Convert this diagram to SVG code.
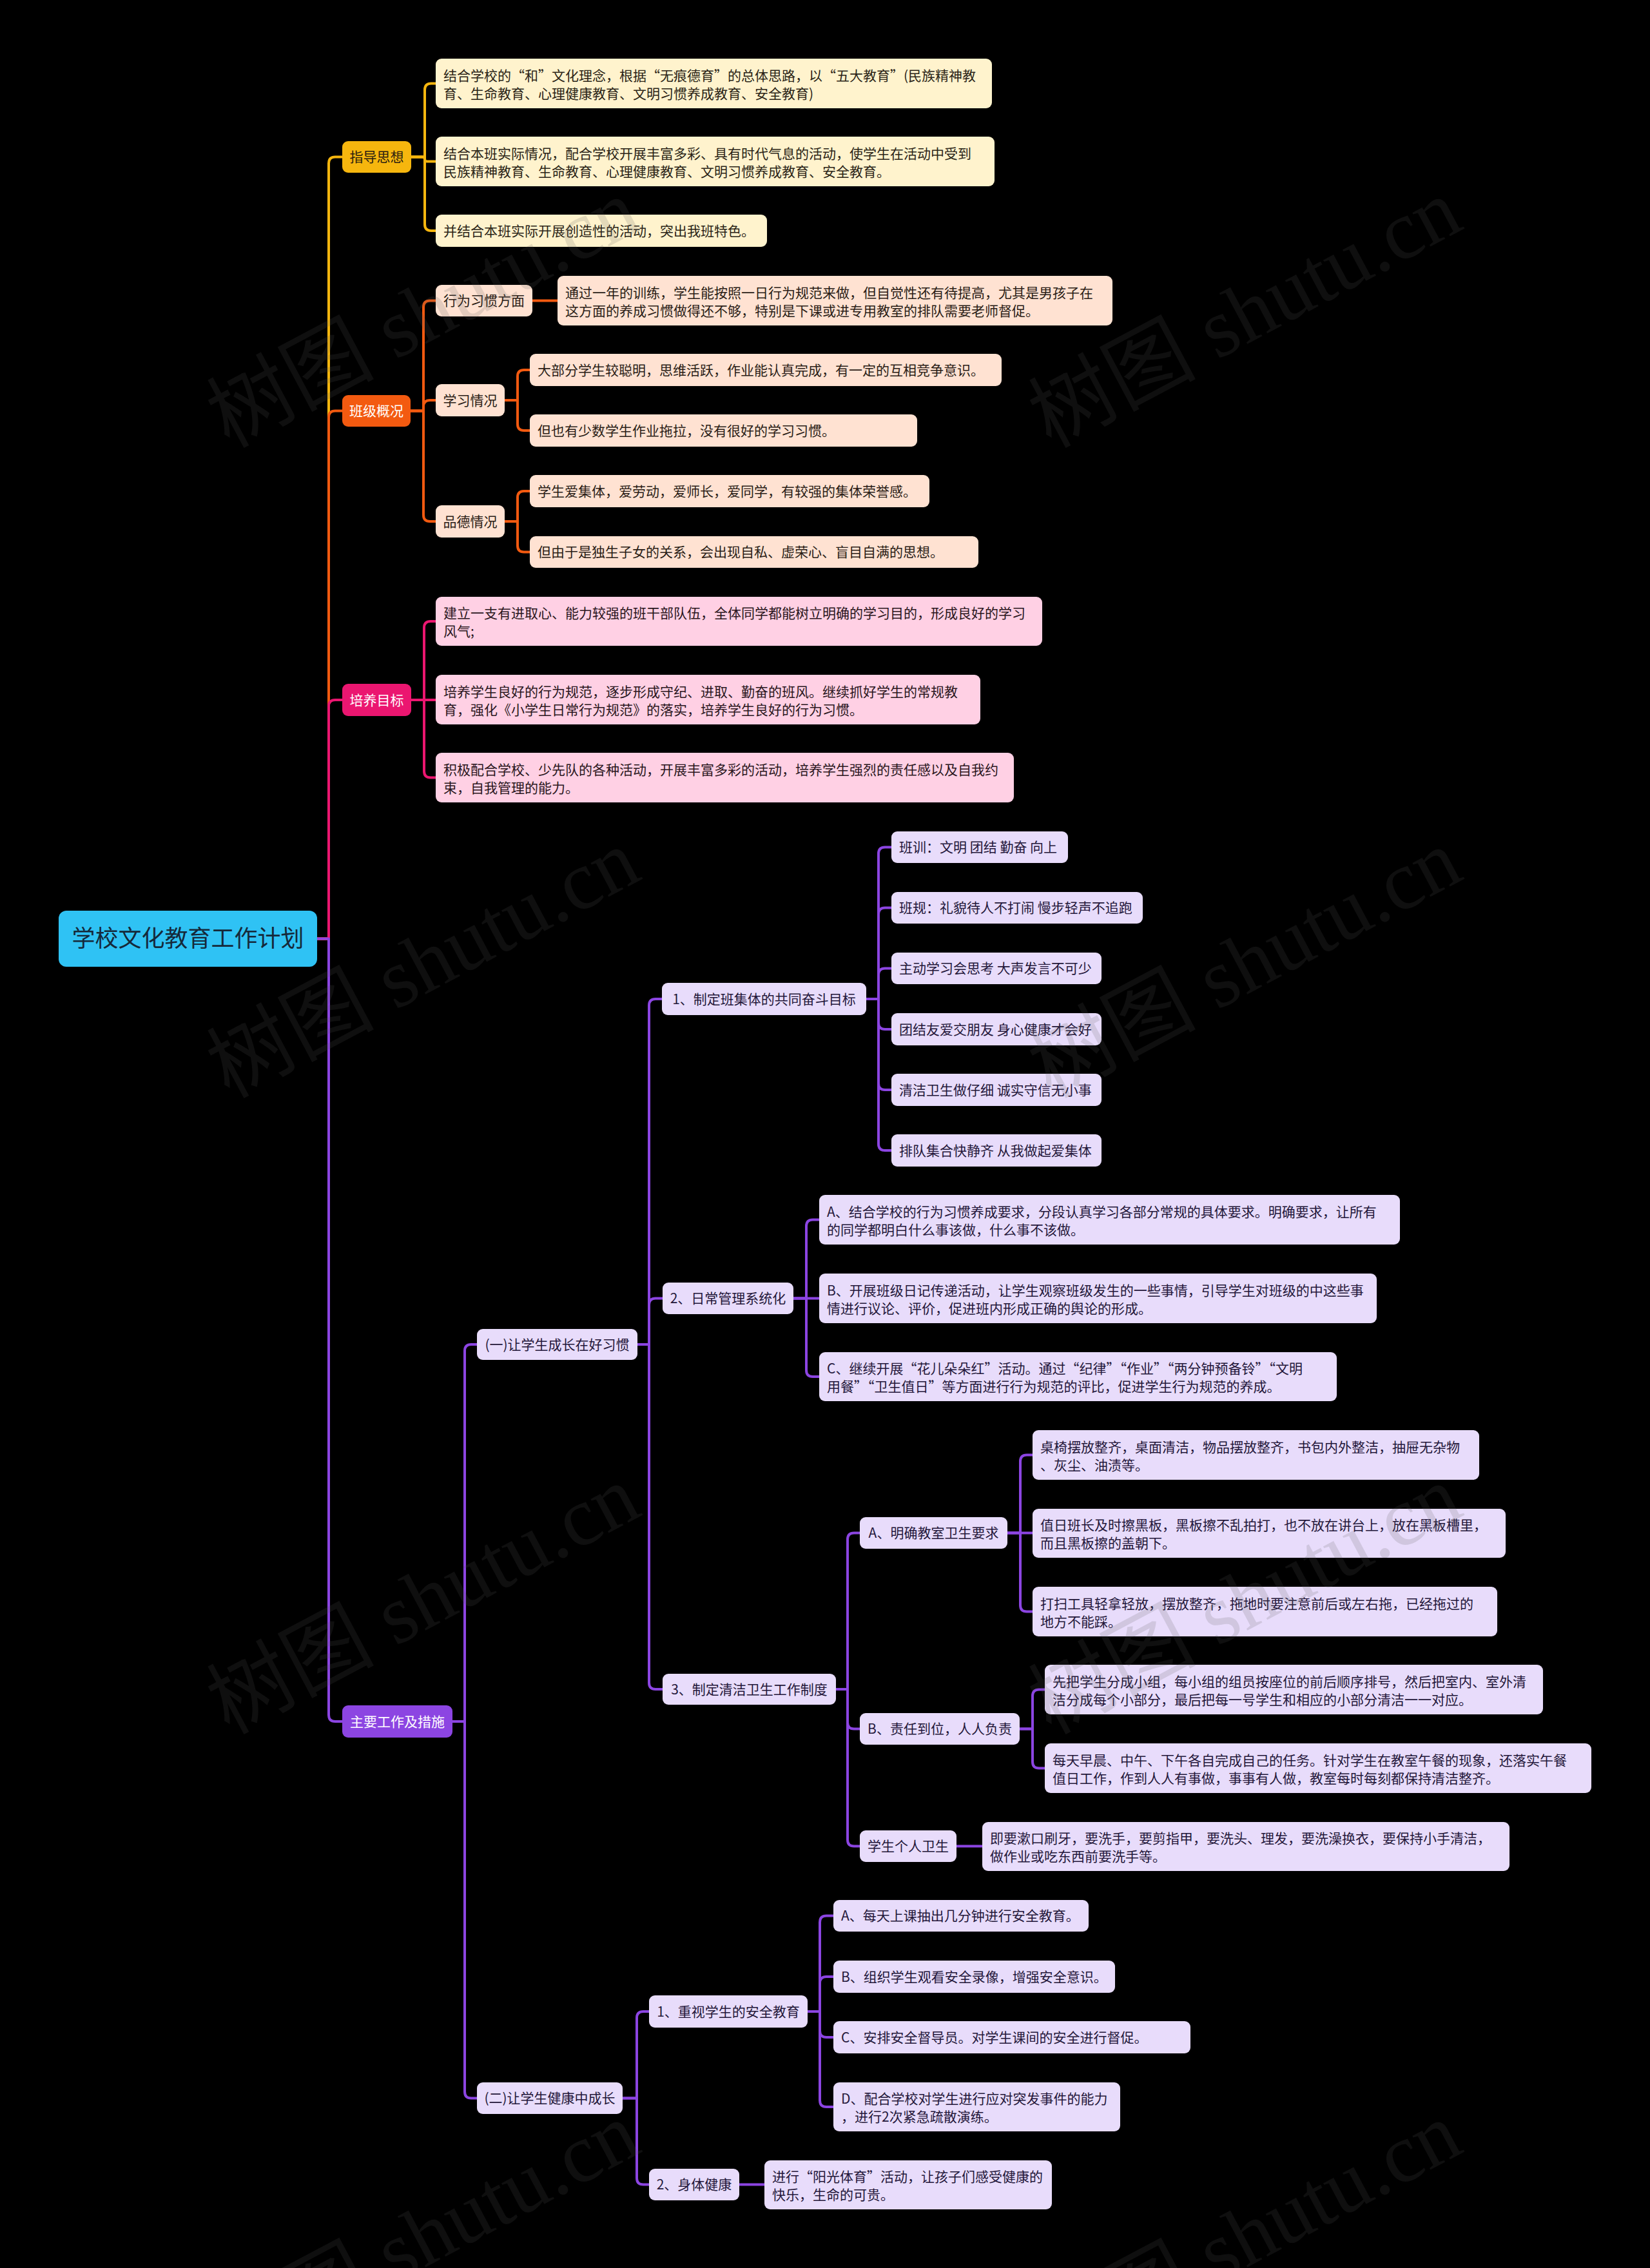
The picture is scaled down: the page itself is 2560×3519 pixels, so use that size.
<svg xmlns="http://www.w3.org/2000/svg" width="2560" height="3519" viewBox="0 0 2560 3519">
<style>
text{font-family:"Noto Sans CJK SC","Microsoft YaHei",sans-serif;font-size:21px;}
.root rect{fill:#2FC2F4;}
.root text{font-size:36px;fill:#15293a;text-anchor:middle;}
.l1 text{text-anchor:middle;fill:#ffffff;}
.c text{text-anchor:middle;}
.yl rect{fill:#FFF3CD;} .yl text{fill:#2a2416;}
.or rect{fill:#FFE2D2;} .or text{fill:#2a1d16;}
.pk rect{fill:#FFD0E4;} .pk text{fill:#2a1620;}
.pu rect{fill:#E8DCFB;} .pu text{fill:#24173a;}
.lk path{fill:none;stroke-width:4;stroke-linecap:round;stroke-linejoin:round;}
.ly{stroke:#F6B60E;} .lo{stroke:#F35A10;} .lp{stroke:#EB1670;} .lu{stroke:#8C45E2;}
.wm text{font-family:"Liberation Serif","Noto Sans CJK SC",serif;font-size:130px;fill:#5a5a5a;fill-opacity:0.17;}
</style>
<rect x="0" y="0" width="2560" height="3519" fill="#000000"/>

<g id="connectors" class="lk">
<path class="ly" d="M492 1456.5 H510 V253.5 Q510 243.5 520 243.5 H531"/>
<path class="lo" d="M492 1456.5 H510 V647.5 Q510 637.5 520 637.5 H531"/>
<path class="lp" d="M492 1456.5 H510 V1096 Q510 1086 520 1086 H531"/>
<path class="lu" d="M492 1456.5 H510 V2661 Q510 2671 520 2671 H531"/>

<path class="ly" d="M638 243.5 H659 V139.5 Q659 129.5 669 129.5 H676"/>
<path class="ly" d="M638 243.5 H655 Q659 243.5 659 247 Q659 250.5 663 250.5 H676"/>
<path class="ly" d="M638 243.5 H659 V348 Q659 358 669 358 H676"/>

<path class="lo" d="M637 637.5 H657 V476.5 Q657 466.5 667 466.5 H676"/>
<path class="lo" d="M637 637.5 H657 V631 Q657 621 667 621 H676"/>
<path class="lo" d="M637 637.5 H657 V799 Q657 809 667 809 H676"/>
<path class="lo" d="M826 466.5 H865"/>
<path class="lo" d="M783 621 H803 V584 Q803 574 813 574 H822"/>
<path class="lo" d="M783 621 H803 V658 Q803 668 813 668 H822"/>
<path class="lo" d="M783 809 H803 V772 Q803 762 813 762 H822"/>
<path class="lo" d="M783 809 H803 V846.5 Q803 856.5 813 856.5 H822"/>

<path class="lp" d="M638 1086 H658 V974 Q658 964 668 964 H676"/>
<path class="lp" d="M638 1086 H676"/>
<path class="lp" d="M638 1086 H658 V1196.5 Q658 1206.5 668 1206.5 H676"/>

<path class="lu" d="M702 2671 H721 V2096 Q721 2086 731 2086 H740"/>
<path class="lu" d="M702 2671 H721 V3245.5 Q721 3255.5 731 3255.5 H740"/>

<path class="lu" d="M989 2086 H1007 V1560 Q1007 1550 1017 1550 H1027"/>
<path class="lu" d="M989 2086 H1007 V2024.5 Q1007 2014.5 1017 2014.5 H1028"/>
<path class="lu" d="M989 2086 H1007 V2611 Q1007 2621 1017 2621 H1028"/>

<path class="lu" d="M1344 1550 H1363 V1324.5 Q1363 1314.5 1373 1314.5 H1383"/>
<path class="lu" d="M1344 1550 H1363 V1418.5 Q1363 1408.5 1373 1408.5 H1383"/>
<path class="lu" d="M1344 1550 H1363 V1512.5 Q1363 1502.5 1373 1502.5 H1383"/>
<path class="lu" d="M1344 1550 H1363 V1587 Q1363 1597 1373 1597 H1383"/>
<path class="lu" d="M1344 1550 H1363 V1681 Q1363 1691 1373 1691 H1383"/>
<path class="lu" d="M1344 1550 H1363 V1775 Q1363 1785 1373 1785 H1383"/>

<path class="lu" d="M1231 2014.5 H1251 V1902.5 Q1251 1892.5 1261 1892.5 H1271"/>
<path class="lu" d="M1231 2014.5 H1271"/>
<path class="lu" d="M1231 2014.5 H1251 V2126 Q1251 2136 1261 2136 H1271"/>

<path class="lu" d="M1297 2621 H1315 V2388.5 Q1315 2378.5 1325 2378.5 H1334"/>
<path class="lu" d="M1297 2621 H1315 V2672.5 Q1315 2682.5 1325 2682.5 H1334"/>
<path class="lu" d="M1297 2621 H1315 V2854.5 Q1315 2864.5 1325 2864.5 H1334"/>

<path class="lu" d="M1563 2378.5 H1583 V2267.5 Q1583 2257.5 1593 2257.5 H1602"/>
<path class="lu" d="M1563 2378.5 H1602"/>
<path class="lu" d="M1563 2378.5 H1583 V2490.5 Q1583 2500.5 1593 2500.5 H1602"/>

<path class="lu" d="M1582 2682.5 H1602 V2631.5 Q1602 2621.5 1612 2621.5 H1621"/>
<path class="lu" d="M1582 2682.5 H1602 V2733.5 Q1602 2743.5 1612 2743.5 H1621"/>

<path class="lu" d="M1484 2864.5 H1524"/>

<path class="lu" d="M966 3255.5 H988 V3131 Q988 3121 998 3121 H1007"/>
<path class="lu" d="M966 3255.5 H988 V3379.5 Q988 3389.5 998 3389.5 H1007"/>

<path class="lu" d="M1253 3121 H1272 V2982.5 Q1272 2972.5 1282 2972.5 H1293"/>
<path class="lu" d="M1253 3121 H1272 V3077 Q1272 3067 1282 3067 H1293"/>
<path class="lu" d="M1253 3121 H1272 V3151 Q1272 3161 1282 3161 H1293"/>
<path class="lu" d="M1253 3121 H1272 V3259 Q1272 3269 1282 3269 H1293"/>

<path class="lu" d="M1147 3389.5 H1186"/>
</g>

<g id="root" class="root"><rect x="91" y="1413" width="401" height="87" rx="12"/><text x="291.5" y="1469">学校文化教育工作计划</text></g>

<g id="n-zhidao" class="l1"><rect x="531" y="219" width="107" height="49" rx="9" fill="#F6B60E"/><text x="584.5" y="251" style="fill:#2a2010">指导思想</text></g>
<g id="n-banji" class="l1"><rect x="531" y="613" width="106" height="49" rx="9" fill="#F35A10"/><text x="584" y="645">班级概况</text></g>
<g id="n-peiyang" class="l1"><rect x="531" y="1061" width="107" height="50" rx="9" fill="#EB1670"/><text x="584.5" y="1093.5">培养目标</text></g>
<g id="n-zhuyao" class="l1"><rect x="531" y="2646" width="171" height="50" rx="9" fill="#8C45E2"/><text x="616.5" y="2678.5">主要工作及措施</text></g>

<g id="z1" class="yl"><rect x="676" y="91" width="863" height="77" rx="9"/><text x="688" y="124.5">结合学校的“和”文化理念，根据“无痕德育”的总体思路，以“五大教育”(民族精神教</text><text x="688" y="152.5">育、生命教育、心理健康教育、文明习惯养成教育、安全教育)</text></g>
<g id="z2" class="yl"><rect x="676" y="212" width="867" height="77" rx="9"/><text x="688" y="245.5">结合本班实际情况，配合学校开展丰富多彩、具有时代气息的活动，使学生在活动中受到</text><text x="688" y="273.5">民族精神教育、生命教育、心理健康教育、文明习惯养成教育、安全教育。</text></g>
<g id="z3" class="yl"><rect x="676" y="333" width="514" height="50" rx="9"/><text x="688" y="365.5">并结合本班实际开展创造性的活动，突出我班特色。</text></g>

<g id="b1" class="or c"><rect x="676" y="442" width="150" height="49" rx="9"/><text x="751" y="474">行为习惯方面</text></g>
<g id="b1c" class="or"><rect x="865" y="428" width="861" height="77" rx="9"/><text x="877" y="461.5">通过一年的训练，学生能按照一日行为规范来做，但自觉性还有待提高，尤其是男孩子在</text><text x="877" y="489.5">这方面的养成习惯做得还不够，特别是下课或进专用教室的排队需要老师督促。</text></g>
<g id="b2" class="or c"><rect x="676" y="596" width="107" height="50" rx="9"/><text x="729.5" y="628.5">学习情况</text></g>
<g id="b2c1" class="or"><rect x="822" y="549" width="732" height="50" rx="9"/><text x="834" y="581.5">大部分学生较聪明，思维活跃，作业能认真完成，有一定的互相竞争意识。</text></g>
<g id="b2c2" class="or"><rect x="822" y="643" width="601" height="50" rx="9"/><text x="834" y="675.5">但也有少数学生作业拖拉，没有很好的学习习惯。</text></g>
<g id="b3" class="or c"><rect x="676" y="784" width="107" height="50" rx="9"/><text x="729.5" y="816.5">品德情况</text></g>
<g id="b3c1" class="or"><rect x="822" y="737" width="620" height="50" rx="9"/><text x="834" y="769.5">学生爱集体，爱劳动，爱师长，爱同学，有较强的集体荣誉感。</text></g>
<g id="b3c2" class="or"><rect x="822" y="832" width="696" height="49" rx="9"/><text x="834" y="864">但由于是独生子女的关系，会出现自私、虚荣心、盲目自满的思想。</text></g>

<g id="p1" class="pk"><rect x="676" y="926" width="941" height="76" rx="9"/><text x="688" y="959">建立一支有进取心、能力较强的班干部队伍，全体同学都能树立明确的学习目的，形成良好的学习</text><text x="688" y="987">风气;</text></g>
<g id="p2" class="pk"><rect x="676" y="1047" width="845" height="77" rx="9"/><text x="688" y="1080.5">培养学生良好的行为规范，逐步形成守纪、进取、勤奋的班风。继续抓好学生的常规教</text><text x="688" y="1108.5">育，强化《小学生日常行为规范》的落实，培养学生良好的行为习惯。</text></g>
<g id="p3" class="pk"><rect x="676" y="1168" width="897" height="77" rx="9"/><text x="688" y="1201.5">积极配合学校、少先队的各种活动，开展丰富多彩的活动，培养学生强烈的责任感以及自我约</text><text x="688" y="1229.5">束，自我管理的能力。</text></g>

<g id="m1" class="pu c"><rect x="740" y="2062" width="249" height="48" rx="9"/><text x="864.5" y="2093.5">(一)让学生成长在好习惯</text></g>
<g id="m2" class="pu c"><rect x="740" y="3231" width="226" height="49" rx="9"/><text x="853" y="3263">(二)让学生健康中成长</text></g>

<g id="m1a" class="pu c"><rect x="1027" y="1525" width="317" height="50" rx="9"/><text x="1185.5" y="1557.5">1、制定班集体的共同奋斗目标</text></g>
<g id="m1a1" class="pu"><rect x="1383" y="1290" width="274" height="49" rx="9"/><text x="1395" y="1322">班训：文明 团结 勤奋 向上</text></g>
<g id="m1a2" class="pu"><rect x="1383" y="1384" width="390" height="49" rx="9"/><text x="1395" y="1416">班规：礼貌待人不打闹 慢步轻声不追跑</text></g>
<g id="m1a3" class="pu"><rect x="1383" y="1478" width="326" height="49" rx="9"/><text x="1395" y="1510">主动学习会思考 大声发言不可少</text></g>
<g id="m1a4" class="pu"><rect x="1383" y="1572" width="326" height="50" rx="9"/><text x="1395" y="1604.5">团结友爱交朋友 身心健康才会好</text></g>
<g id="m1a5" class="pu"><rect x="1383" y="1666" width="326" height="50" rx="9"/><text x="1395" y="1698.5">清洁卫生做仔细 诚实守信无小事</text></g>
<g id="m1a6" class="pu"><rect x="1383" y="1760" width="326" height="50" rx="9"/><text x="1395" y="1792.5">排队集合快静齐 从我做起爱集体</text></g>

<g id="m1b" class="pu c"><rect x="1028" y="1990" width="203" height="49" rx="9"/><text x="1129.5" y="2022">2、日常管理系统化</text></g>
<g id="m1b1" class="pu"><rect x="1271" y="1854" width="901" height="77" rx="9"/><text x="1283" y="1887.5">A、结合学校的行为习惯养成要求，分段认真学习各部分常规的具体要求。明确要求，让所有</text><text x="1283" y="1915.5">的同学都明白什么事该做，什么事不该做。</text></g>
<g id="m1b2" class="pu"><rect x="1271" y="1976" width="865" height="77" rx="9"/><text x="1283" y="2009.5">B、开展班级日记传递活动，让学生观察班级发生的一些事情，引导学生对班级的中这些事</text><text x="1283" y="2037.5">情进行议论、评价，促进班内形成正确的舆论的形成。</text></g>
<g id="m1b3" class="pu"><rect x="1271" y="2098" width="803" height="76" rx="9"/><text x="1283" y="2131">C、继续开展“花儿朵朵红”活动。通过“纪律”“作业”“两分钟预备铃”“文明</text><text x="1283" y="2159">用餐”“卫生值日”等方面进行行为规范的评比，促进学生行为规范的养成。</text></g>

<g id="m1c" class="pu c"><rect x="1028" y="2597" width="269" height="48" rx="9"/><text x="1162.5" y="2628.5">3、制定清洁卫生工作制度</text></g>
<g id="m1c1" class="pu c"><rect x="1334" y="2354" width="229" height="49" rx="9"/><text x="1448.5" y="2386">A、明确教室卫生要求</text></g>
<g id="m1c1a" class="pu"><rect x="1602" y="2219" width="693" height="77" rx="9"/><text x="1614" y="2252.5">桌椅摆放整齐，桌面清洁，物品摆放整齐，书包内外整洁，抽屉无杂物</text><text x="1614" y="2280.5">、灰尘、油渍等。</text></g>
<g id="m1c1b" class="pu"><rect x="1602" y="2341" width="734" height="76" rx="9"/><text x="1614" y="2374">值日班长及时擦黑板，黑板擦不乱拍打，也不放在讲台上，放在黑板槽里，</text><text x="1614" y="2402">而且黑板擦的盖朝下。</text></g>
<g id="m1c1c" class="pu"><rect x="1602" y="2462" width="721" height="77" rx="9"/><text x="1614" y="2495.5">打扫工具轻拿轻放，摆放整齐，拖地时要注意前后或左右拖，已经拖过的</text><text x="1614" y="2523.5">地方不能踩。</text></g>
<g id="m1c2" class="pu c"><rect x="1334" y="2658" width="248" height="49" rx="9"/><text x="1458" y="2690">B、责任到位，人人负责</text></g>
<g id="m1c2a" class="pu"><rect x="1621" y="2583" width="773" height="77" rx="9"/><text x="1633" y="2616.5">先把学生分成小组，每小组的组员按座位的前后顺序排号，然后把室内、室外清</text><text x="1633" y="2644.5">洁分成每个小部分，最后把每一号学生和相应的小部分清洁一一对应。</text></g>
<g id="m1c2b" class="pu"><rect x="1621" y="2705" width="848" height="77" rx="9"/><text x="1633" y="2738.5">每天早晨、中午、下午各自完成自己的任务。针对学生在教室午餐的现象，还落实午餐</text><text x="1633" y="2766.5">值日工作，作到人人有事做，事事有人做，教室每时每刻都保持清洁整齐。</text></g>
<g id="m1c3" class="pu c"><rect x="1334" y="2840" width="150" height="49" rx="9"/><text x="1409" y="2872">学生个人卫生</text></g>
<g id="m1c3a" class="pu"><rect x="1524" y="2827" width="818" height="76" rx="9"/><text x="1536" y="2860">即要漱口刷牙，要洗手，要剪指甲，要洗头、理发，要洗澡换衣，要保持小手清洁，</text><text x="1536" y="2888">做作业或吃东西前要洗手等。</text></g>

<g id="m2a" class="pu c"><rect x="1007" y="3096" width="246" height="50" rx="9"/><text x="1130" y="3128.5">1、重视学生的安全教育</text></g>
<g id="m2a1" class="pu"><rect x="1293" y="2948" width="396" height="49" rx="9"/><text x="1305" y="2980">A、每天上课抽出几分钟进行安全教育。</text></g>
<g id="m2a2" class="pu"><rect x="1293" y="3042" width="437" height="50" rx="9"/><text x="1305" y="3074.5">B、组织学生观看安全录像，增强安全意识。</text></g>
<g id="m2a3" class="pu"><rect x="1293" y="3136" width="554" height="50" rx="9"/><text x="1305" y="3168.5">C、安排安全督导员。对学生课间的安全进行督促。</text></g>
<g id="m2a4" class="pu"><rect x="1293" y="3231" width="445" height="76" rx="9"/><text x="1305" y="3264">D、配合学校对学生进行应对突发事件的能力</text><text x="1305" y="3292">，进行2次紧急疏散演练。</text></g>
<g id="m2b" class="pu c"><rect x="1007" y="3365" width="140" height="49" rx="9"/><text x="1077" y="3397">2、身体健康</text></g>
<g id="m2b1" class="pu"><rect x="1186" y="3352" width="446" height="76" rx="9"/><text x="1198" y="3385">进行“阳光体育”活动，让孩子们感受健康的</text><text x="1198" y="3413">快乐，生命的可贵。</text></g>

<g id="watermark" class="wm">
<text x="355" y="696" transform="rotate(-28 355 696)">树图 shutu.cn</text>
<text x="1630" y="696" transform="rotate(-28 1630 696)">树图 shutu.cn</text>
<text x="355" y="1705" transform="rotate(-28 355 1705)">树图 shutu.cn</text>
<text x="1630" y="1705" transform="rotate(-28 1630 1705)">树图 shutu.cn</text>
<text x="355" y="2692" transform="rotate(-28 355 2692)">树图 shutu.cn</text>
<text x="1630" y="2692" transform="rotate(-28 1630 2692)">树图 shutu.cn</text>
<text x="355" y="3680" transform="rotate(-28 355 3680)">树图 shutu.cn</text>
<text x="1630" y="3680" transform="rotate(-28 1630 3680)">树图 shutu.cn</text>
</g>
</svg>
